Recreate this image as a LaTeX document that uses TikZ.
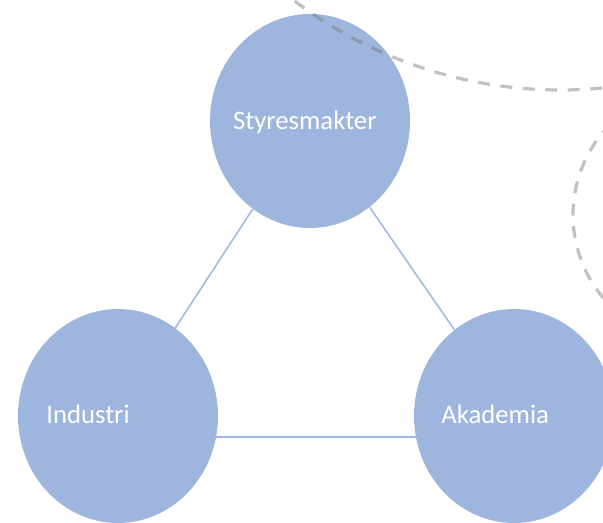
\documentclass[tikz,border=0pt]{standalone}
\usepackage{fontspec}
\setmainfont{Carlito}
\usetikzlibrary{shapes.geometric}
\definecolor{orgblue}{RGB}{158,181,222}
\definecolor{linkblue}{RGB}{160,184,226}
\definecolor{dashgray}{RGB}{120,120,120}
\begin{document}
\begin{tikzpicture}[
        org/.style={ellipse, fill=orgblue, draw=none, minimum width=5cm, minimum height=5.35cm, inner sep=0pt},
        orgtext/.style={font=\fontsize{19}{23}\selectfont, text=white, inner sep=0pt},
        link/.style={draw=linkblue, line width=1.1pt},
        ring/.style={draw=dashgray, opacity=0.45, line width=2.3pt, dash pattern=on 8.5pt off 7.5pt}
    ]
    \clip (0,0) rectangle (15.075,13.05);

    % the three parties
    \node[org] (sty) at (7.75,10.025) {};
    \node[org] (ind) at (2.95,2.65) {};
    \node[org] (akad) at (12.85,2.65) {};

    \node[orgtext] (stytext) at (7.62,10.0) {Styresmakter};
    \node[orgtext] (indtext) at (2.2,2.68) {Industri};
    \node[orgtext] (akadtext) at (12.38,2.68) {Akademia};

    % links
    \draw[link] (sty) -- (ind);
    \draw[link] (sty) -- (akad);
    \draw[link] (ind.-12) -- (akad.192);

    % dashed rings
    \draw[ring] (14.0,21.8) ++(230:11.0) arc[start angle=230, end angle=282, radius=11.0];
    \draw[ring] (17.55,7.675) ++(125:3.225) arc[start angle=125, end angle=235, radius=3.225];

\end{tikzpicture}
\end{document}
